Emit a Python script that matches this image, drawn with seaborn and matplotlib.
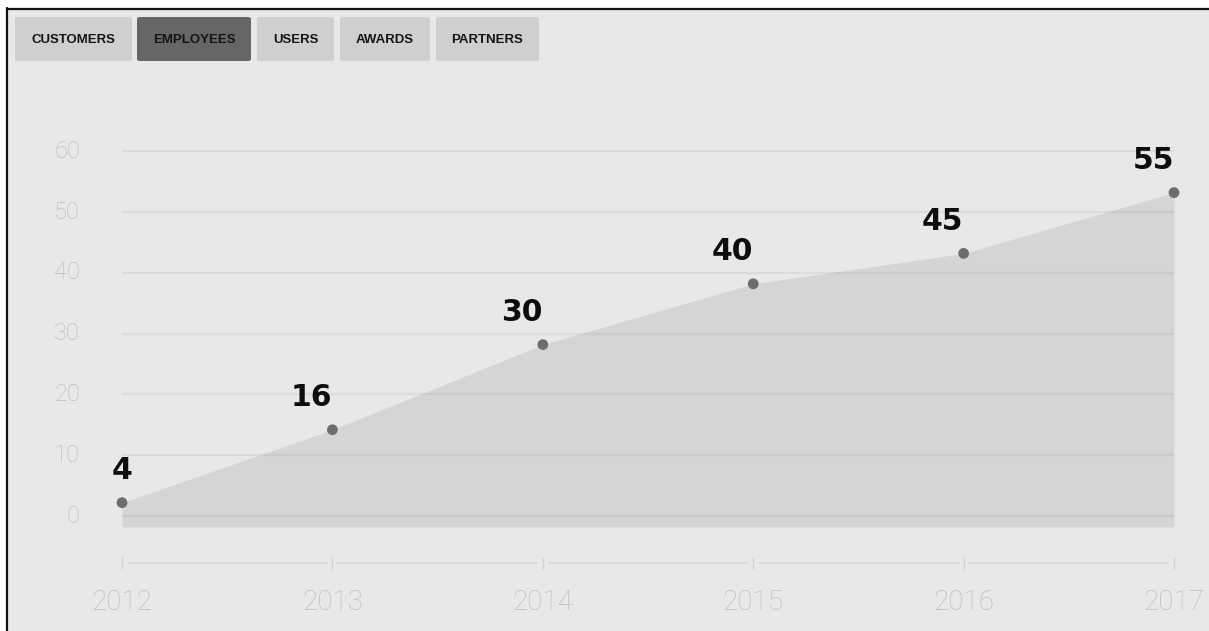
import matplotlib
matplotlib.use("Agg")
import matplotlib.pyplot as plt
import seaborn as sns
from matplotlib.patches import Rectangle, FancyBboxPatch
import pandas as pd

# ---- data ----
years = [2012, 2013, 2014, 2015, 2016, 2017]
employees = [4, 16, 30, 40, 45, 55]
ytick_labels = ["0", "10", "20", "30", "40", "50", "60"]
tabs = ["CUSTOMERS", "EMPLOYEES", "USERS", "AWARDS", "PARTNERS"]
active_tab = "EMPLOYEES"

df = pd.DataFrame({"year": years, "value": employees})

W, H = 1209, 631
sns.set_theme(style="white")
plt.rcParams["font.family"] = ["Roboto", "DejaVu Sans"]

fig = plt.figure(figsize=(W / 100, H / 100), dpi=100)
fig.patch.set_facecolor("white")

def fx(x):
    return x / W

def fy(y):
    return 1 - y / H

# background panel + black frame
fig.patches.append(Rectangle((fx(7), 0), 1 - fx(7), fy(9), transform=fig.transFigure,
                             facecolor="#e8e8e8", edgecolor="none", zorder=-10))
fig.add_artist(plt.Line2D([fx(6.5), fx(6.5)], [0, fy(8)], transform=fig.transFigure,
                          color="#111111", lw=1.6, zorder=-5))
fig.add_artist(plt.Line2D([fx(6.5), 1], [fy(8.5), fy(8.5)], transform=fig.transFigure,
                          color="#111111", lw=1.6, zorder=-5))

# main axes covering the figure, scaled so years / values land on the right pixels
ax = fig.add_axes([0, 0, 1, 1])
ax.set_zorder(1)
ax.set_facecolor("none")
px_per_year = 210.4
x0_px = 122
ax.set_xlim(years[0] - x0_px / px_per_year, years[0] + (W - x0_px) / px_per_year)
px_per_unit = 6.08
base_px = 527
ax.set_ylim(-(H - base_px) / px_per_unit, base_px / px_per_unit)
ax.axis("off")

# area
ax.fill_between(df["year"], 0, df["value"], color="#d5d5d5", lw=0, zorder=1)

# gridlines (drawn on top of the area, offset as in the original)
grid_offset = 1.8
for i, lab in enumerate(ytick_labels):
    yv = i * 10 + grid_offset
    ax.hlines(yv, years[0], years[-1], color="#000000", alpha=0.05, lw=1.5, zorder=2)
    ax.text(fx(80), yv, lab, transform=ax.get_yaxis_transform(), ha="right", va="center",
            fontsize=17, color="#bdbdbd", fontweight="light")

# points
sns.scatterplot(data=df, x="year", y="value", ax=ax, s=60, color="#6d6d6d",
                edgecolor="none", zorder=4, legend=False)

# value labels
for xv, yv in zip(years, employees):
    s = str(yv)
    ax.annotate(s, (xv, yv), xytext=(-15.1 * (len(s) - 1), 23), textcoords="offset points",
                ha="center", va="center", fontsize=21.5, fontweight="bold",
                color="#0d0d0d", family="DejaVu Sans", zorder=5)

# x axis line with ticks and gaps
axis_y = -(563 - base_px) / px_per_unit
tick_half = 6 / px_per_unit
gap = 5 / px_per_year
for a, b in zip(years[:-1], years[1:]):
    ax.hlines(axis_y, a + gap, b - gap, color="#d6d6d6", lw=1.1, zorder=2)
for xv in years:
    ax.vlines(xv, axis_y - tick_half, axis_y + tick_half, color="#d2d2d2", lw=1.0, zorder=2)
    ax.text(xv, -(602 - base_px) / px_per_unit, str(xv), ha="center", va="center",
            fontsize=20, color="#bcbcbc", fontweight="light")

# tabs
tab_px = [(15, 132), (137, 251), (257, 334), (340, 430), (436, 539)]
for (l, r), name in zip(tab_px, tabs):
    active = name == active_tab
    fig.patches.append(FancyBboxPatch((fx(l), fy(61)), fx(r - l), fy(17) - fy(61),
                                      boxstyle="round,pad=0,rounding_size=0.003",
                                      transform=fig.transFigure,
                                      facecolor="#666666" if active else "#cfcfcf",
                                      edgecolor="none", zorder=-4))
    fig.text(fx((l + r) / 2), fy(40), name, ha="center", va="center", fontsize=9.5,
             fontweight="bold", color="#141414", family=["Liberation Sans", "DejaVu Sans"])

fig.savefig("out.png", dpi=100, facecolor=fig.get_facecolor())
